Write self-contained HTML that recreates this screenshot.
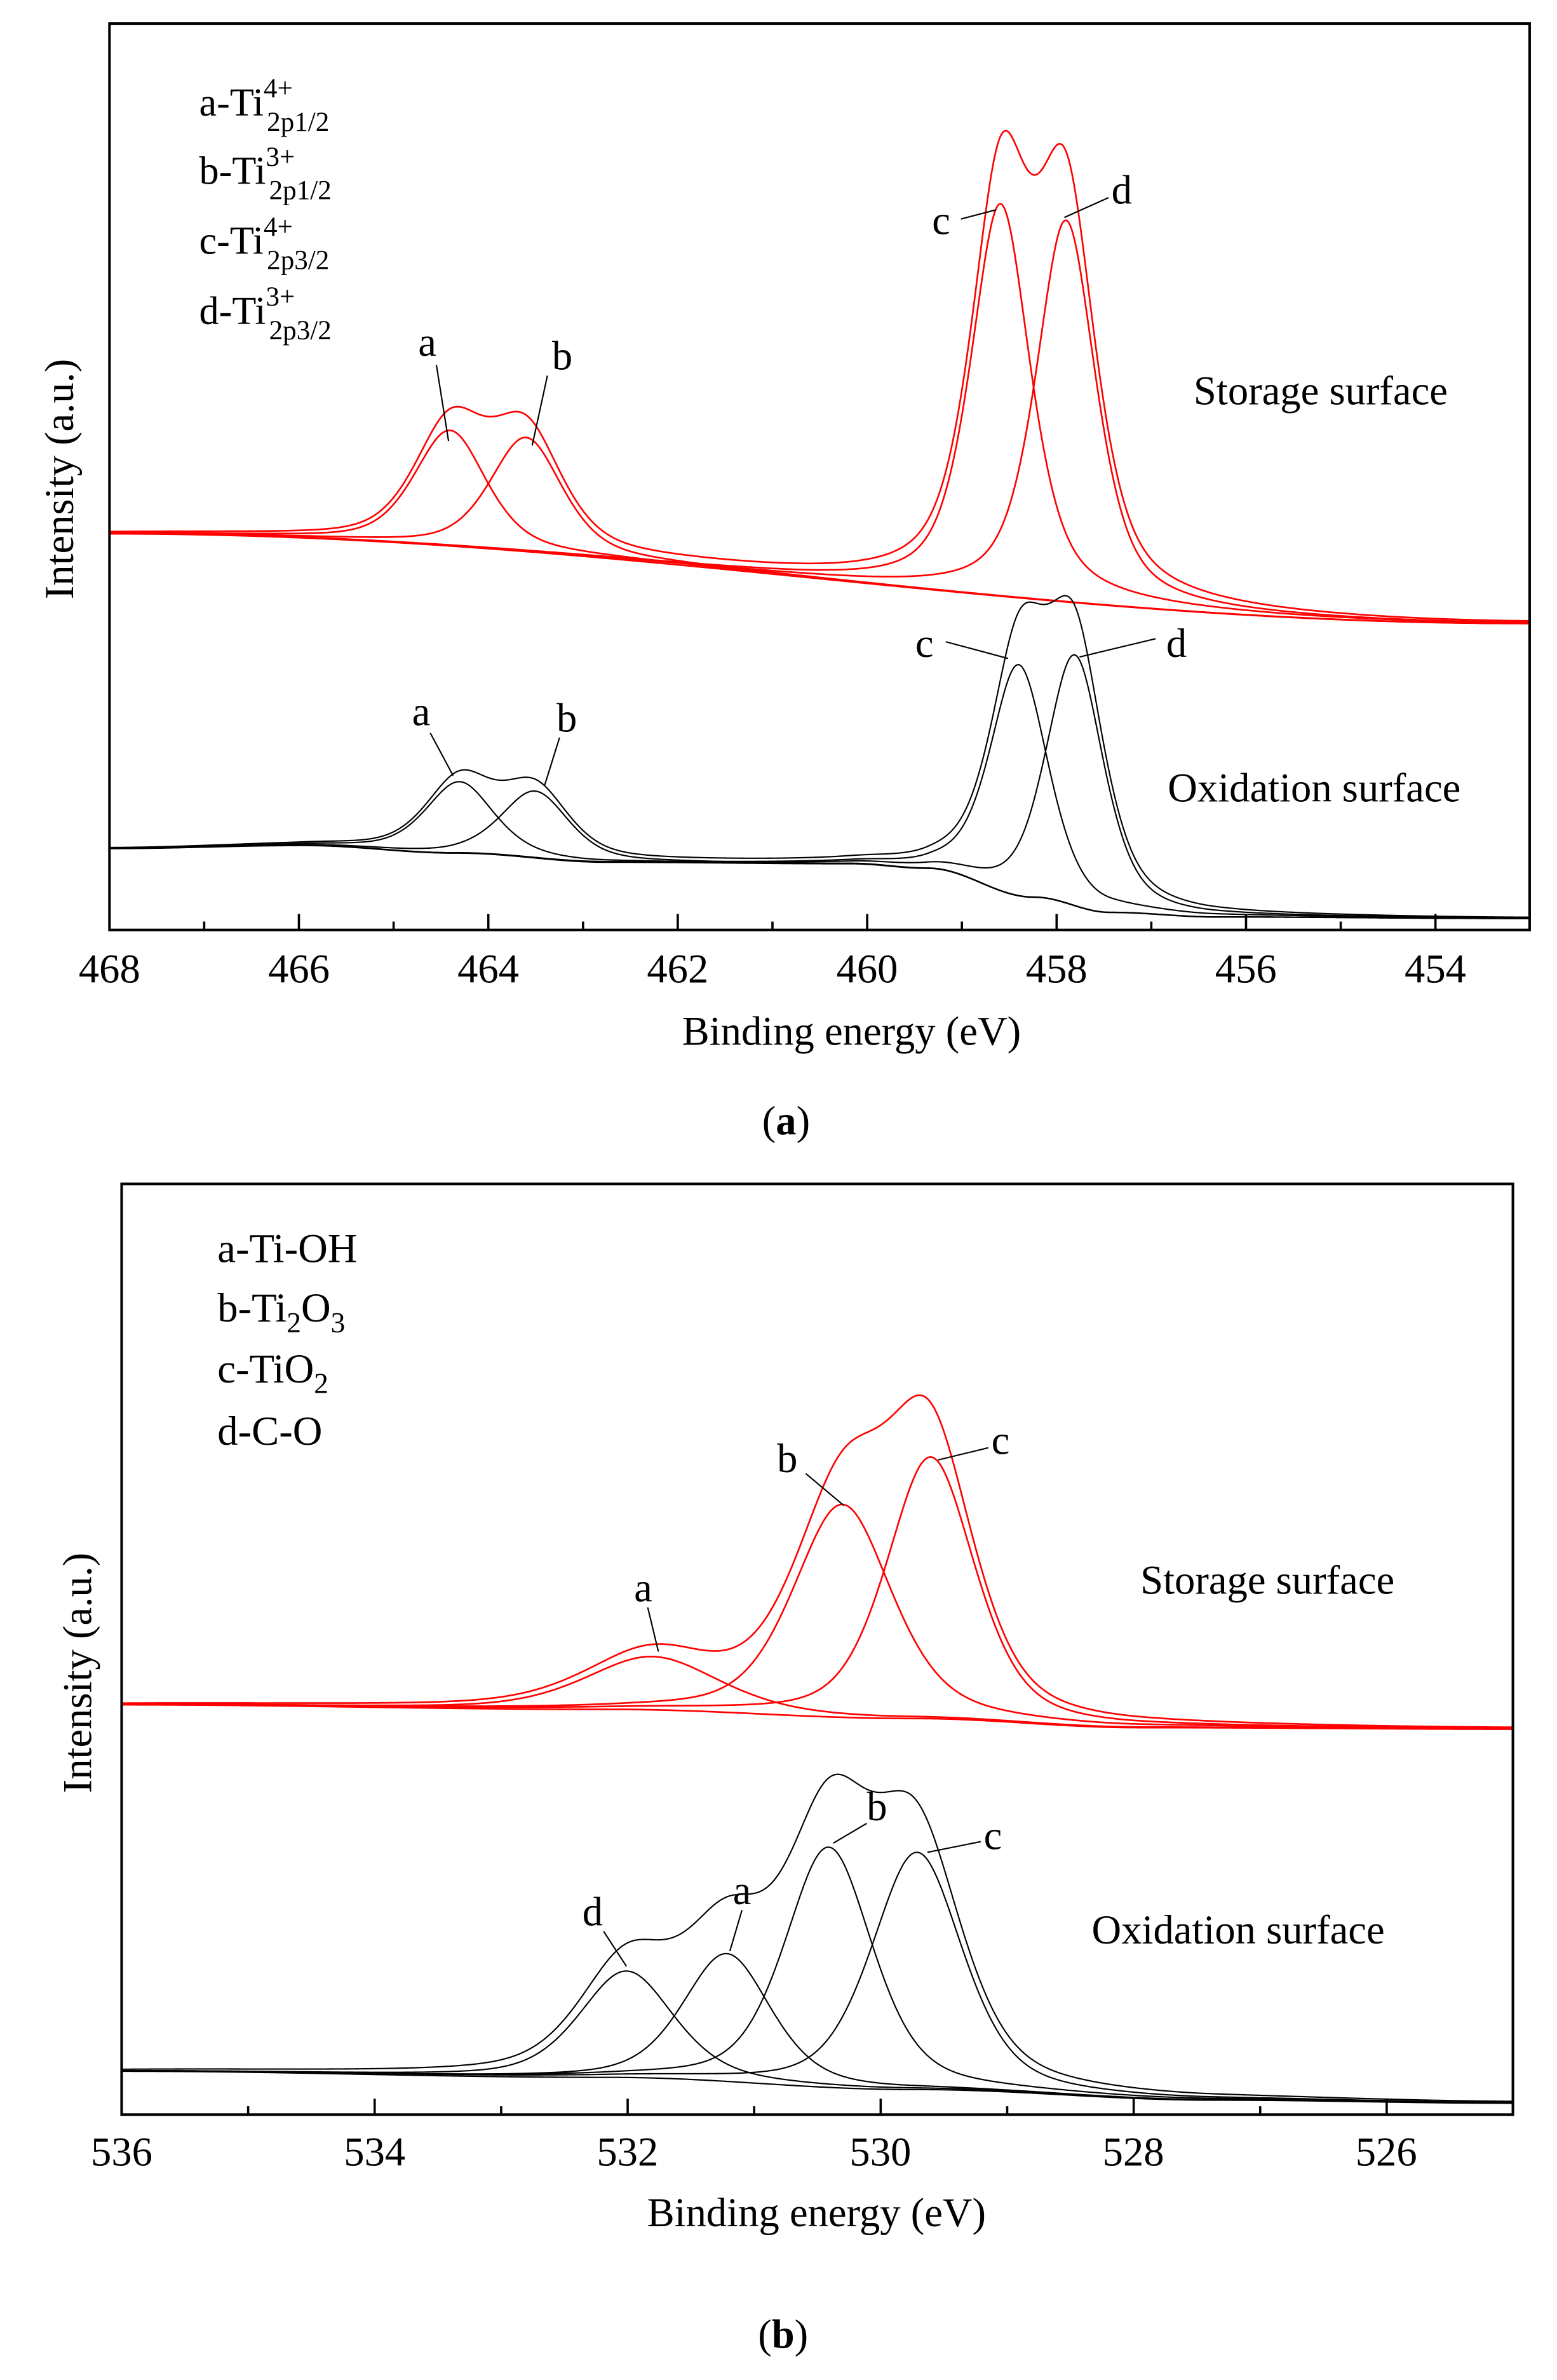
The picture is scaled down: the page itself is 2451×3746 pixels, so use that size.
<!DOCTYPE html>
<html><head><meta charset="utf-8"><style>
html,body{margin:0;padding:0;background:#fff;}
svg{display:block;}
text{font-family:"Liberation Serif","DejaVu Serif",serif;fill:#000;}
</style></head><body>
<svg id="s" width="2451" height="3746" viewBox="0 0 1024 1565" preserveAspectRatio="none" xmlns="http://www.w3.org/2000/svg" font-family="Liberation Serif, DejaVu Serif, serif">
<g id="curves"></g>
<rect x="72" y="15.5" width="934" height="596" fill="none" stroke="#000" stroke-width="1.7"/>
<g id="ticksA"></g>
<g font-size="27" text-anchor="middle">
<text x="72" y="646">468</text><text x="196.6" y="646">466</text><text x="321.1" y="646">464</text><text x="445.7" y="646">462</text><text x="570.3" y="646">460</text><text x="694.9" y="646">458</text><text x="819.4" y="646">456</text><text x="944" y="646">454</text>
</g>
<text x="560" y="687" font-size="27" text-anchor="middle">Binding energy (eV)</text>
<text transform="translate(48,315) rotate(-90)" font-size="27" text-anchor="middle">Intensity (a.u.)</text>
<text x="517" y="746" font-size="27" text-anchor="middle">(<tspan font-weight="bold">a</tspan>)</text>
<g font-size="26">
<text x="131" y="76">a-Ti<tspan font-size="18" dy="-12">4+</tspan><tspan font-size="18" dx="-17" dy="22">2p1/2</tspan></text>
<text x="131" y="121">b-Ti<tspan font-size="18" dy="-12">3+</tspan><tspan font-size="18" dx="-17" dy="22">2p1/2</tspan></text>
<text x="131" y="167">c-Ti<tspan font-size="18" dy="-12">4+</tspan><tspan font-size="18" dx="-17" dy="22">2p3/2</tspan></text>
<text x="131" y="213">d-Ti<tspan font-size="18" dy="-12">3+</tspan><tspan font-size="18" dx="-17" dy="22">2p3/2</tspan></text>
</g>
<g font-size="27">
<text x="275" y="234">a</text><text x="363" y="243">b</text><text x="613" y="154">c</text><text x="731" y="134">d</text>
<text x="271" y="477">a</text><text x="366" y="481">b</text><text x="602" y="432">c</text><text x="767" y="432">d</text>
<text x="785" y="266">Storage surface</text>
<text x="768" y="527">Oxidation surface</text>
</g>
<g stroke="#000" stroke-width="0.9" fill="none">
<line x1="287" y1="240" x2="295" y2="290"/><line x1="360" y1="247" x2="350" y2="293"/>
<line x1="632" y1="144" x2="655" y2="138"/><line x1="729" y1="130" x2="700" y2="143"/>
<line x1="283" y1="482" x2="298" y2="510"/><line x1="368" y1="485" x2="358" y2="517"/>
<line x1="622" y1="422" x2="663" y2="433"/><line x1="760" y1="420" x2="710" y2="432"/>
</g>
<rect x="80" y="778.5" width="915" height="612" fill="none" stroke="#000" stroke-width="1.7"/>
<g id="ticksB"></g>
<g font-size="27" text-anchor="middle">
<text x="80" y="1424">536</text><text x="246.4" y="1424">534</text><text x="412.7" y="1424">532</text><text x="579" y="1424">530</text><text x="745.4" y="1424">528</text><text x="911.7" y="1424">526</text>
</g>
<text x="537" y="1464" font-size="27" text-anchor="middle">Binding energy (eV)</text>
<text transform="translate(60,1100) rotate(-90)" font-size="27" text-anchor="middle">Intensity (a.u.)</text>
<text x="515" y="1544" font-size="27" text-anchor="middle">(<tspan font-weight="bold">b</tspan>)</text>
<g font-size="27">
<text x="143" y="830">a-Ti-OH</text>
<text x="143" y="869">b-Ti<tspan font-size="19" dy="7">2</tspan><tspan dy="-7">O</tspan><tspan font-size="19" dy="7">3</tspan></text>
<text x="143" y="909">c-TiO<tspan font-size="19" dy="7">2</tspan></text>
<text x="143" y="950">d-C-O</text>
<text x="417" y="1053">a</text><text x="511" y="968">b</text><text x="652" y="956">c</text>
<text x="383" y="1266">d</text><text x="482" y="1252">a</text><text x="570" y="1197">b</text><text x="647" y="1216">c</text>
<text x="750" y="1048">Storage surface</text>
<text x="718" y="1278">Oxidation surface</text>
</g>
<g stroke="#000" stroke-width="0.9" fill="none">
<line x1="426" y1="1057" x2="433" y2="1086"/><line x1="530" y1="969" x2="555" y2="990"/><line x1="650" y1="952" x2="617" y2="960"/>
<line x1="397" y1="1270" x2="412" y2="1293"/><line x1="488" y1="1256" x2="480" y2="1283"/><line x1="570" y1="1199" x2="548" y2="1212"/><line x1="645" y1="1211" x2="610" y2="1218"/>
</g>
</svg>
<script>
(function(){
var NS="http://www.w3.org/2000/svg";
var cg=document.getElementById("curves");
function interp(pts,x){
  if(x<=pts[0][0])return pts[0][1];
  for(var i=1;i<pts.length;i++){ if(x<=pts[i][0]){var a=pts[i-1],b=pts[i];var t=(x-a[0])/(b[0]-a[0]);t=(1-Math.cos(Math.PI*t))/2;return a[1]+(b[1]-a[1])*t;} }
  return pts[pts.length-1][1];
}
function pv(x,c,h,w,m){var t=(x-c)/w;var t2=t*t;return h*(m/(1+4*t2)+(1-m)*Math.exp(-2.7726*t2));}
function drawPanel(x0,x1,pxPerEv,bg,peaks,color,sw){
  function path(fn){var d="";for(var x=x0;x<=x1;x+=1){var y=fn(x);d+=(d?"L":"M")+x.toFixed(1)+" "+y.toFixed(2);}var p=document.createElementNS(NS,"path");p.setAttribute("d",d);p.setAttribute("fill","none");p.setAttribute("stroke",color);p.setAttribute("stroke-width",sw);p.setAttribute("stroke-linejoin","round");cg.appendChild(p);}
  function pk(x,p){return pv((x-p[0])/pxPerEv,0,p[1],p[2],p[3]);}
  path(function(x){return interp(bg,x);});
  peaks.forEach(function(p){path(function(x){return interp(bg,x)-pk(x,p);});});
  path(function(x){var s=0;peaks.forEach(function(p){s+=pk(x,p);});return interp(bg,x)-s;});
}
drawPanel(72,1006,62.29,[[72,351],[1006,410]],[[296,76,0.9,0.5],[346,75,0.9,0.5],[658,258,0.75,0.6],[701,251,0.75,0.6]],"#f00",1.1);
drawPanel(72,1006,62.29,[[72,558],[200,556],[300,561],[400,567],[560,568],[610,571],[680,590],[730,600],[800,603],[1006,604]],[[302,47,0.85,0.5],[352,44,0.85,0.5],[670,152,0.72,0.5],[707,165,0.72,0.5]],"#000",0.9);
drawPanel(80,995,83.2,[[80,1121],[400,1124],[600,1130],[750,1136],[995,1137]],[[429,35,1.25,0.45],[554,140,0.92,0.45],[612,172,0.82,0.45]],"#f00",1.1);
drawPanel(80,995,83.2,[[80,1362],[400,1366],[600,1374],[800,1381],[995,1383]],[[412,70,0.88,0.45],[478,84,0.82,0.45],[545,158,0.82,0.45],[603,156,0.85,0.45]],"#000",0.9);
function ticks(id,x0,ppe,n,yb){var g=document.getElementById(id);for(var i=1;i<n;i++){var x=x0+i*ppe;var l=document.createElementNS(NS,"line");l.setAttribute("x1",x);l.setAttribute("x2",x);l.setAttribute("y1",yb);l.setAttribute("y2",yb-(i%2==0?10:5));l.setAttribute("stroke","#000");l.setAttribute("stroke-width","1.5");g.appendChild(l);}}
ticks("ticksA",72,62.29,15,611);
ticks("ticksB",80,83.2,11,1390);
})();
</script>
</body></html>
